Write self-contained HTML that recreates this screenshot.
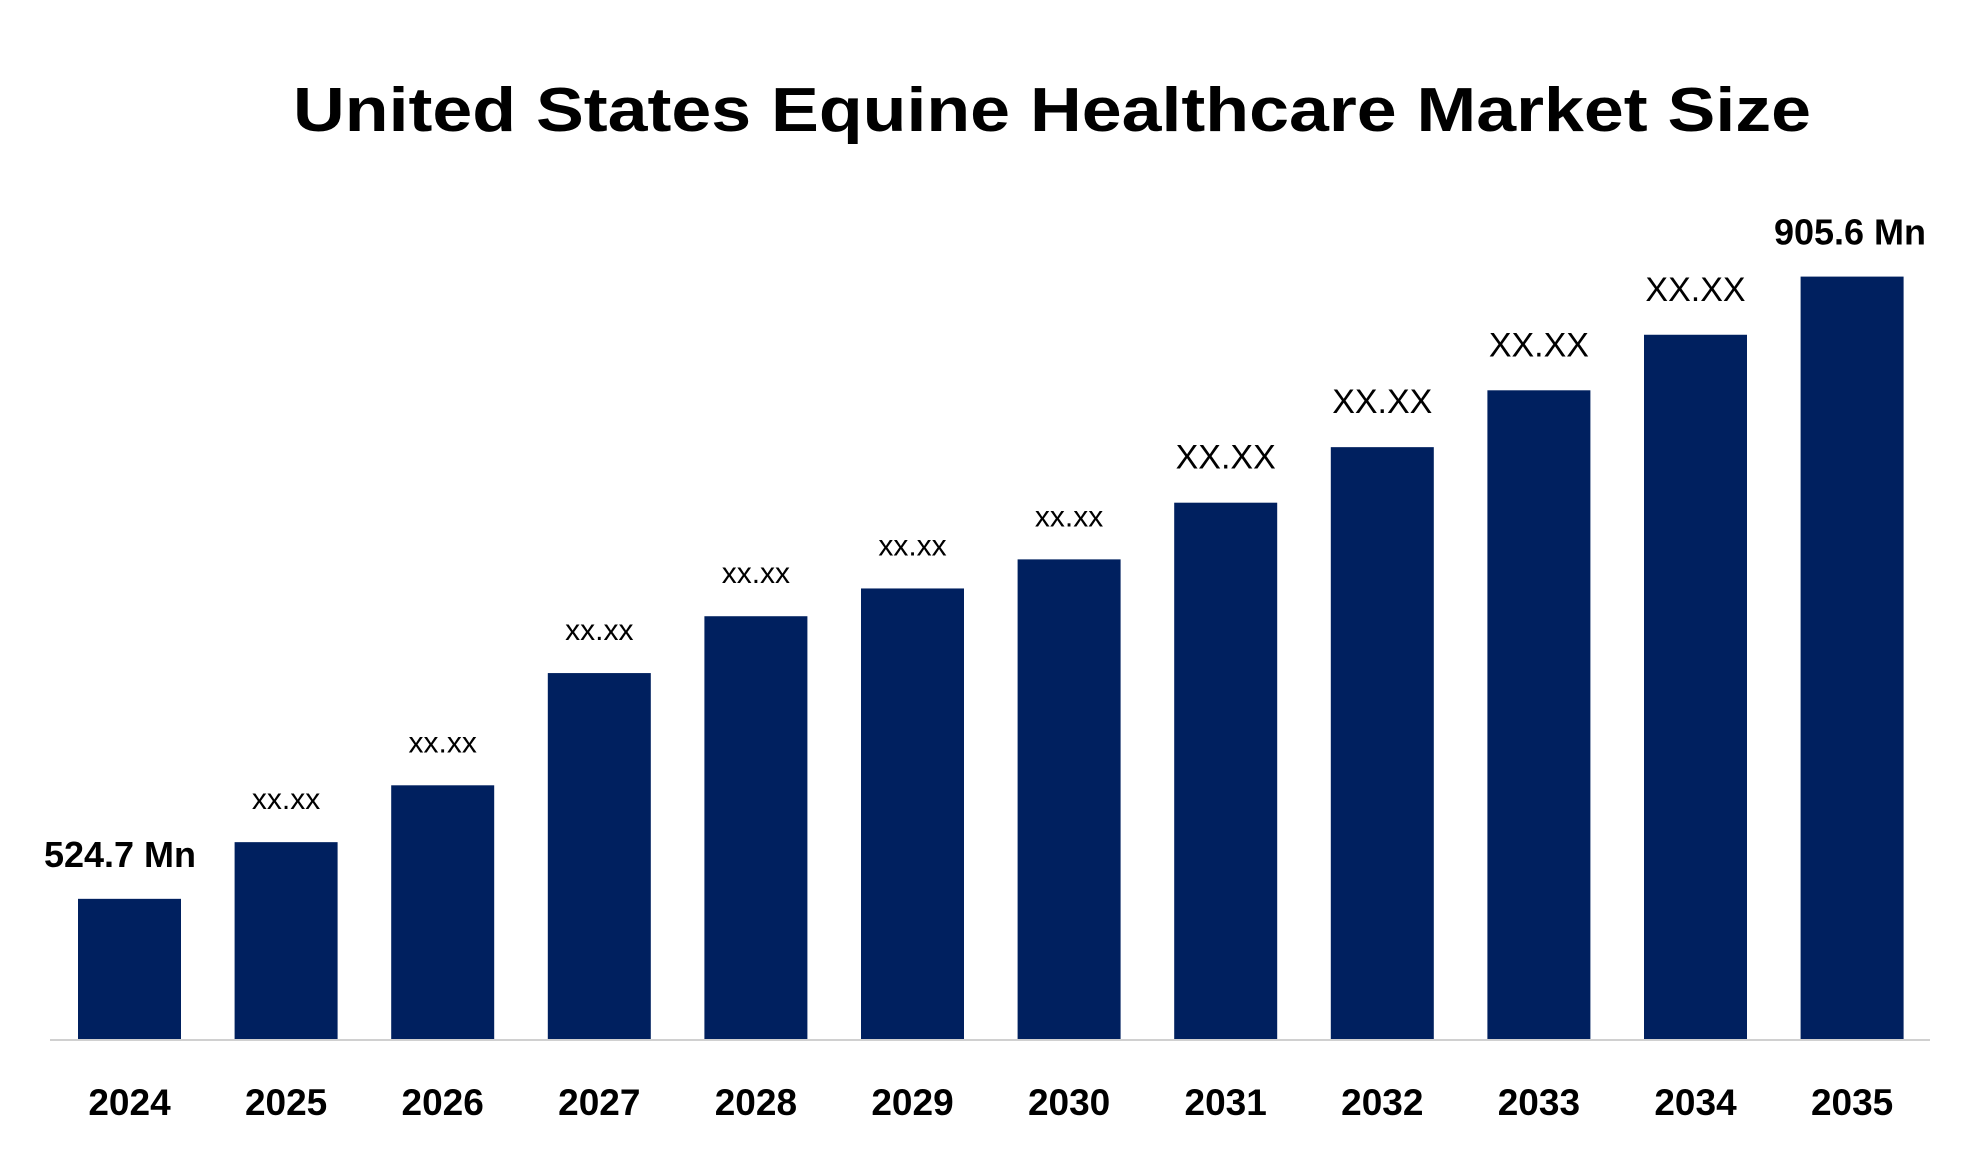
<!DOCTYPE html>
<html><head><meta charset="utf-8"><style>
html,body{margin:0;padding:0;background:#fff;}
svg{display:block;font-family:"Liberation Sans",sans-serif;}
</style></head><body>
<svg id="chart" width="1980" height="1155" viewBox="0 0 1980 1155" xmlns="http://www.w3.org/2000/svg">
<text x="1052" y="131" text-anchor="middle" font-size="62" font-weight="bold" fill="#000" textLength="1518" lengthAdjust="spacingAndGlyphs">United States Equine Healthcare Market Size</text>
<line x1="50" y1="1040" x2="1930" y2="1040" stroke="#d0d0d0" stroke-width="2"/>
<g id="bars"></g>
</svg>
<script>
const categories = ["2024","2025","2026","2027","2028","2029","2030","2031","2032","2033","2034","2035"];
const values = [524.7,559.4,594.2,662.9,697.7,714.7,732.5,767.2,801.2,836.0,870.0,905.6];
const valueLabels = ["524.7 Mn","xx.xx","xx.xx","xx.xx","xx.xx","xx.xx","xx.xx","XX.XX","XX.XX","XX.XX","XX.XX","905.6 Mn"];
const yMin = 438.9, yMax = 905.6;
const baseY = 1039, topY = 276.6;
function y(v){ return baseY - (v - yMin) / (yMax - yMin) * (baseY - topY); }
function xLeft(i){ return 78 + i * 156.6; }
const barW = 103;
const ns = "http://www.w3.org/2000/svg";
const g = document.getElementById("bars");
categories.forEach((c,i)=>{
  const r = document.createElementNS(ns,"rect");
  
  
  r.setAttribute("x", xLeft(i)); r.setAttribute("y", y(values[i]));
  r.setAttribute("width", barW); r.setAttribute("height", baseY - y(values[i]));
  r.setAttribute("fill", "#00205f");
  g.appendChild(r);
  const cx = xLeft(i) + barW/2;
  const t = document.createElementNS(ns,"text");
  
  
  t.setAttribute("x", cx); t.setAttribute("y", 1115);
  t.setAttribute("text-anchor","middle"); t.setAttribute("font-size","37"); t.setAttribute("font-weight","bold");
  t.textContent = c; g.appendChild(t);
  const lbl = valueLabels[i];
  const v = document.createElementNS(ns,"text");
  
  
  let fs = 30, fw = "normal", off = 33;
  if (lbl.indexOf("Mn") >= 0) { fs = 36; fw = "bold"; off = 32; }
  else if (lbl === "XX.XX") { fs = 34; off = 34; }
  let lx = cx;
  if (i === 0) lx = 120;
  if (i === categories.length - 1) lx = 1850;
  v.setAttribute("x", lx); v.setAttribute("y", y(values[i]) - off);
  v.setAttribute("text-anchor","middle"); v.setAttribute("font-size", fs); v.setAttribute("font-weight", fw);
  v.textContent = lbl; g.appendChild(v);
});
</script>
</body></html>
